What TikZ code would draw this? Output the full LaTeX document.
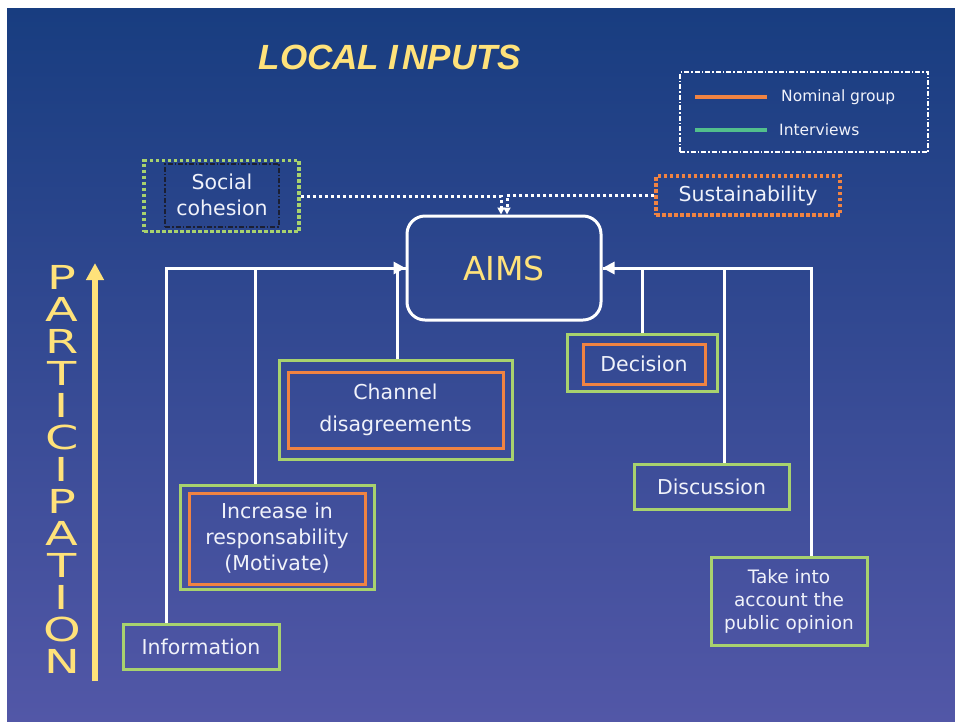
\documentclass[tikz,border=0pt]{standalone}
\usepackage{fontspec}
\setmainfont{DejaVu Sans}
\newfontfamily\titlefont{Liberation Sans}
\usetikzlibrary{arrows.meta}

\definecolor{bgtop}{HTML}{183D80}
\definecolor{bgbot}{HTML}{5257A7}
\definecolor{gold}{HTML}{FFE27A}
\definecolor{leaf}{HTML}{A8D26E}
\definecolor{ember}{HTML}{F08342}
\definecolor{mint}{HTML}{52BF8C}
\definecolor{ink}{HTML}{1B1F33}
\definecolor{paper}{HTML}{F0F2FA}

\begin{document}
\begin{tikzpicture}[x=1pt,y=-1pt,
  outerbox/.style={draw=leaf,line width=3pt,inner sep=0pt},
  innerbox/.style={draw=ember,line width=3pt,inner sep=0pt},
  txt/.style={text=paper,align=center,font=\fontsize{20.5}{26}\selectfont},
  wire/.style={draw=white,line width=3pt},
  feed/.style={wire,-{Triangle[length=12pt,width=12pt]}},
  dotwire/.style={draw=white,line width=3pt,dash pattern=on 3pt off 3pt,
    -{Triangle[length=7pt,width=7pt]}},
  partletter/.style={text=gold,font=\fontsize{33}{33}\selectfont,
    xscale=1.45,inner sep=0pt}]

% canvas and background
\useasboundingbox (0,0) rectangle (955,721);
\fill[white] (0,0) rectangle (955,721);
\shade[top color=bgtop,bottom color=bgbot] (7,8) rectangle (955,721);

% heading
\node[text=gold,font=\titlefont\bfseries\itshape\fontsize{35}{40}\selectfont]
  (title) at (390,57) {LOCAL I\kern4pt NPUTS};

% legend
\node[draw=white,line width=2pt,dash pattern=on 5pt off 2pt on 1.5pt off 2pt,
  minimum width=248pt,minimum height=80pt] (legend) at (804,112) {};
\draw[ember,line width=3.5pt] (695,97) -- (767,97);
\draw[mint,line width=3.5pt] (695,130) -- (767,130);
\node[anchor=west,inner sep=0pt,text=paper,font=\fontsize{15.5}{18}\selectfont]
  (lgnom) at (781,97) {Nominal group};
\node[anchor=west,inner sep=0pt,text=paper,font=\fontsize{15.5}{18}\selectfont]
  (lgint) at (779,130) {Interviews};

% central aims
\node[draw=white,line width=3pt,rounded corners=18pt,minimum width=194pt,
  minimum height=104pt,text=gold,font=\fontsize{33}{36}\selectfont]
  (aims) at (504,268) {AIMS};

% upper inputs
\node[draw=leaf,line width=3.5pt,dash pattern=on 3.5pt off 2.5pt,
  minimum width=155pt,minimum height=71pt] (soc) at (221.5,196) {};
\node[draw=ink,line width=2pt,dash pattern=on 5pt off 2pt on 1.5pt off 2pt,
  minimum width=114pt,minimum height=63pt,txt] (socin) at (222,195.3)
  {Social\\cohesion};
\node[draw=ember,line width=3.5pt,dash pattern=on 3.5pt off 2.5pt,
  minimum width=184pt,minimum height=39pt,txt] (sus) at (748,195.5)
  {Sustainability};

\draw[dotwire] (soc.east) -| ([xshift=-3pt]aims.north);
\draw[dotwire] (sus.west) -| ([xshift=3pt]aims.north);

% left branch boxes
\node[outerbox,minimum width=233pt,minimum height=99pt] (chan) at (395.5,409.5) {};
\node[innerbox,minimum width=215pt,minimum height=76pt,txt,
  font=\fontsize{20.5}{32}\selectfont] (chanin) at (395.5,410)
  {Channel\\disagreements};

\node[outerbox,minimum width=194pt,minimum height=104pt] (incr) at (277,537) {};
\node[innerbox,minimum width=176pt,minimum height=91pt,txt] (incrin) at (277,538.5)
  {Increase in\\responsability\\(Motivate)};

\node[outerbox,minimum width=156pt,minimum height=45pt,txt] (info) at (201,646.5)
  {Information};

% right branch boxes
\node[outerbox,minimum width=150pt,minimum height=57pt] (dec) at (642,362.5) {};
\node[innerbox,minimum width=122pt,minimum height=40pt,txt] (decin) at (644,364)
  {Decision};

\node[outerbox,minimum width=155pt,minimum height=45pt,txt] (disc) at (711.5,486.5)
  {Discussion};

\node[outerbox,minimum width=156pt,minimum height=88pt,txt,
  font=\fontsize{18.5}{23}\selectfont] (take) at (789,601)
  {Take into\\account the\\public opinion};

% connectors into aims
\draw[feed] ([xshift=45pt]info.north west) |- (aims.west);
\draw[wire] ([xshift=77pt]incr.north west) |- (aims.west);
\draw[wire] ([xshift=1.5pt]chan.north) |- (aims.west);

\draw[feed] ([xshift=102pt]take.north west) |- (aims.east);
\draw[wire] ([xshift=92pt]disc.north west) |- (aims.east);
\draw[wire] (dec.north) |- (aims.east);

% participation scale
\foreach \ch [count=\i from 0] in {P,A,R,T,I,C,I,P,A,T,I,O,N}
  \node[partletter] (part\i) at (62,{277+32*\i}) {\ch};
\coordinate (scalebase) at (95,681);
\coordinate (scaletop) at (95,263);
\draw[gold,line width=6pt,-{Triangle[length=17pt,width=17pt]}]
  (scalebase) -- (scaletop);

\end{tikzpicture}
\end{document}
